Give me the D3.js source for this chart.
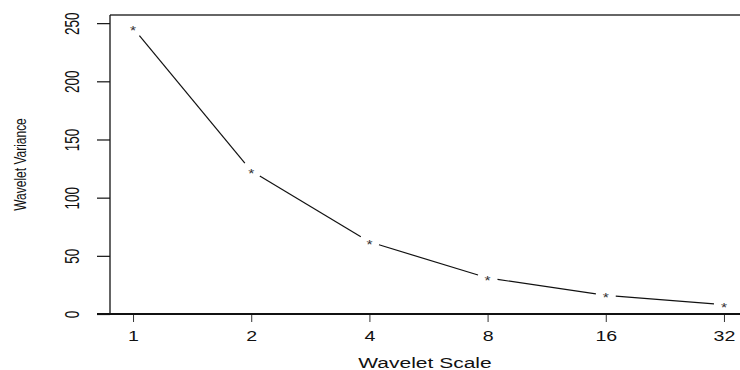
<!DOCTYPE html>
<html>
<head>
<meta charset="utf-8">
<script src="https://cdn.jsdelivr.net/npm/d3@7"></script>
<style>
  html, body { margin: 0; padding: 0; background: #fff; }
  svg { display: block; font-family: "Liberation Sans", Arial, sans-serif; }
</style>
</head>
<body>
<svg id="chart" width="740" height="370"></svg>
<script>
// ---- data ----
const scales = [1, 2, 4, 8, 16, 32];
const variance = [246, 123, 62, 31, 16, 8];
const yTicks = [0, 50, 100, 150, 200, 250];
const xLabel = "Wavelet Scale";
const yLabel = "Wavelet Variance";

// ---- layout ----
const W = 740, H = 370;
const mLeft = 110, mTop = 15, mBottom = 314;
const svg = d3.select("#chart");

const x = d3.scaleLog().base(2)
  .domain([Math.pow(2, -0.2), Math.pow(2, 5.2)])
  .range([109.4, 747.6]);
const y = d3.scaleLinear().domain([0, 257]).range([mBottom, mTop]);

// box (left, top, bottom)
svg.append("line").attr("x1", mLeft).attr("x2", W).attr("y1", mTop).attr("y2", mTop)
  .attr("stroke", "#333").attr("stroke-width", 1.6);
svg.append("line").attr("x1", mLeft).attr("x2", mLeft).attr("y1", mTop).attr("y2", mBottom)
  .attr("stroke", "#111").attr("stroke-width", 1.3);

// x axis
const xAxis = svg.append("g").attr("transform", `translate(0,${mBottom})`)
  .call(d3.axisBottom(x).tickValues(scales).tickFormat(d => String(d))
    .tickSize(8).tickSizeOuter(0).tickPadding(9));
xAxis.select(".domain").remove();
xAxis.selectAll(".tick line").attr("stroke", "#333").attr("stroke-width", 1);
xAxis.selectAll(".tick text")
  .attr("font-size", 14).attr("fill", "#111")
  .attr("font-family", "Liberation Sans, Arial, sans-serif")
  .attr("transform", "scale(1.4,1)");
svg.append("line").attr("x1", mLeft - 13).attr("x2", W).attr("y1", mBottom).attr("y2", mBottom)
  .attr("stroke", "#111").attr("stroke-width", 2);

// y axis
const yAxis = svg.append("g").attr("transform", `translate(${mLeft},0)`)
  .call(d3.axisLeft(y).tickValues(yTicks).tickSize(13).tickSizeOuter(0));
yAxis.select(".domain").remove();
yAxis.selectAll(".tick line").attr("stroke", "#111").attr("stroke-width", 1.2);
yAxis.selectAll(".tick text")
  .attr("x", 0).attr("dy", "0.36em")
  .attr("font-size", 13.5).attr("fill", "#111")
  .attr("font-family", "Liberation Sans, Arial, sans-serif")
  .attr("text-anchor", "middle")
  .attr("transform", "translate(-38,0) scale(1.45,1) rotate(-90)");

// axis titles
svg.append("text").attr("x", 0).attr("y", 0)
  .attr("transform", `translate(${(mLeft + 740) / 2},367.5) scale(1.4,1)`)
  .attr("text-anchor", "middle").attr("font-size", 15).attr("fill", "#111")
  .text(xLabel);
svg.append("text").attr("x", 0).attr("y", 0).attr("dy", "0.36em")
  .attr("transform", `translate(20,${(mTop + mBottom) / 2}) scale(1.4,1) rotate(-90)`)
  .attr("text-anchor", "middle").attr("font-size", 12).attr("fill", "#111")
  .text(yLabel);

// points + gapped lines
const pts = scales.map((s, i) => ({ px: x(s), py: y(variance[i]) }));
const gap = 10;
const segs = d3.pairs(pts).map(([a, b]) => {
  const dx = b.px - a.px, dy = b.py - a.py, L = Math.hypot(dx, dy);
  const ux = dx / L, uy = dy / L;
  return { x1: a.px + ux * gap, y1: a.py + uy * gap, x2: b.px - ux * gap, y2: b.py - uy * gap };
});
svg.append("g").selectAll("line").data(segs).join("line")
  .attr("x1", d => d.x1).attr("y1", d => d.y1)
  .attr("x2", d => d.x2).attr("y2", d => d.y2)
  .attr("stroke", "#111").attr("stroke-width", 1.2);

svg.append("g").selectAll("text").data(pts).join("text")
  .attr("x", 0).attr("y", 0)
  .attr("transform", d => `translate(${d.px},${d.py + 7}) scale(1.3,1)`)
  .attr("text-anchor", "middle").attr("font-size", 12).attr("fill", "#333")
  .text("*");
</script>
</body>
</html>
